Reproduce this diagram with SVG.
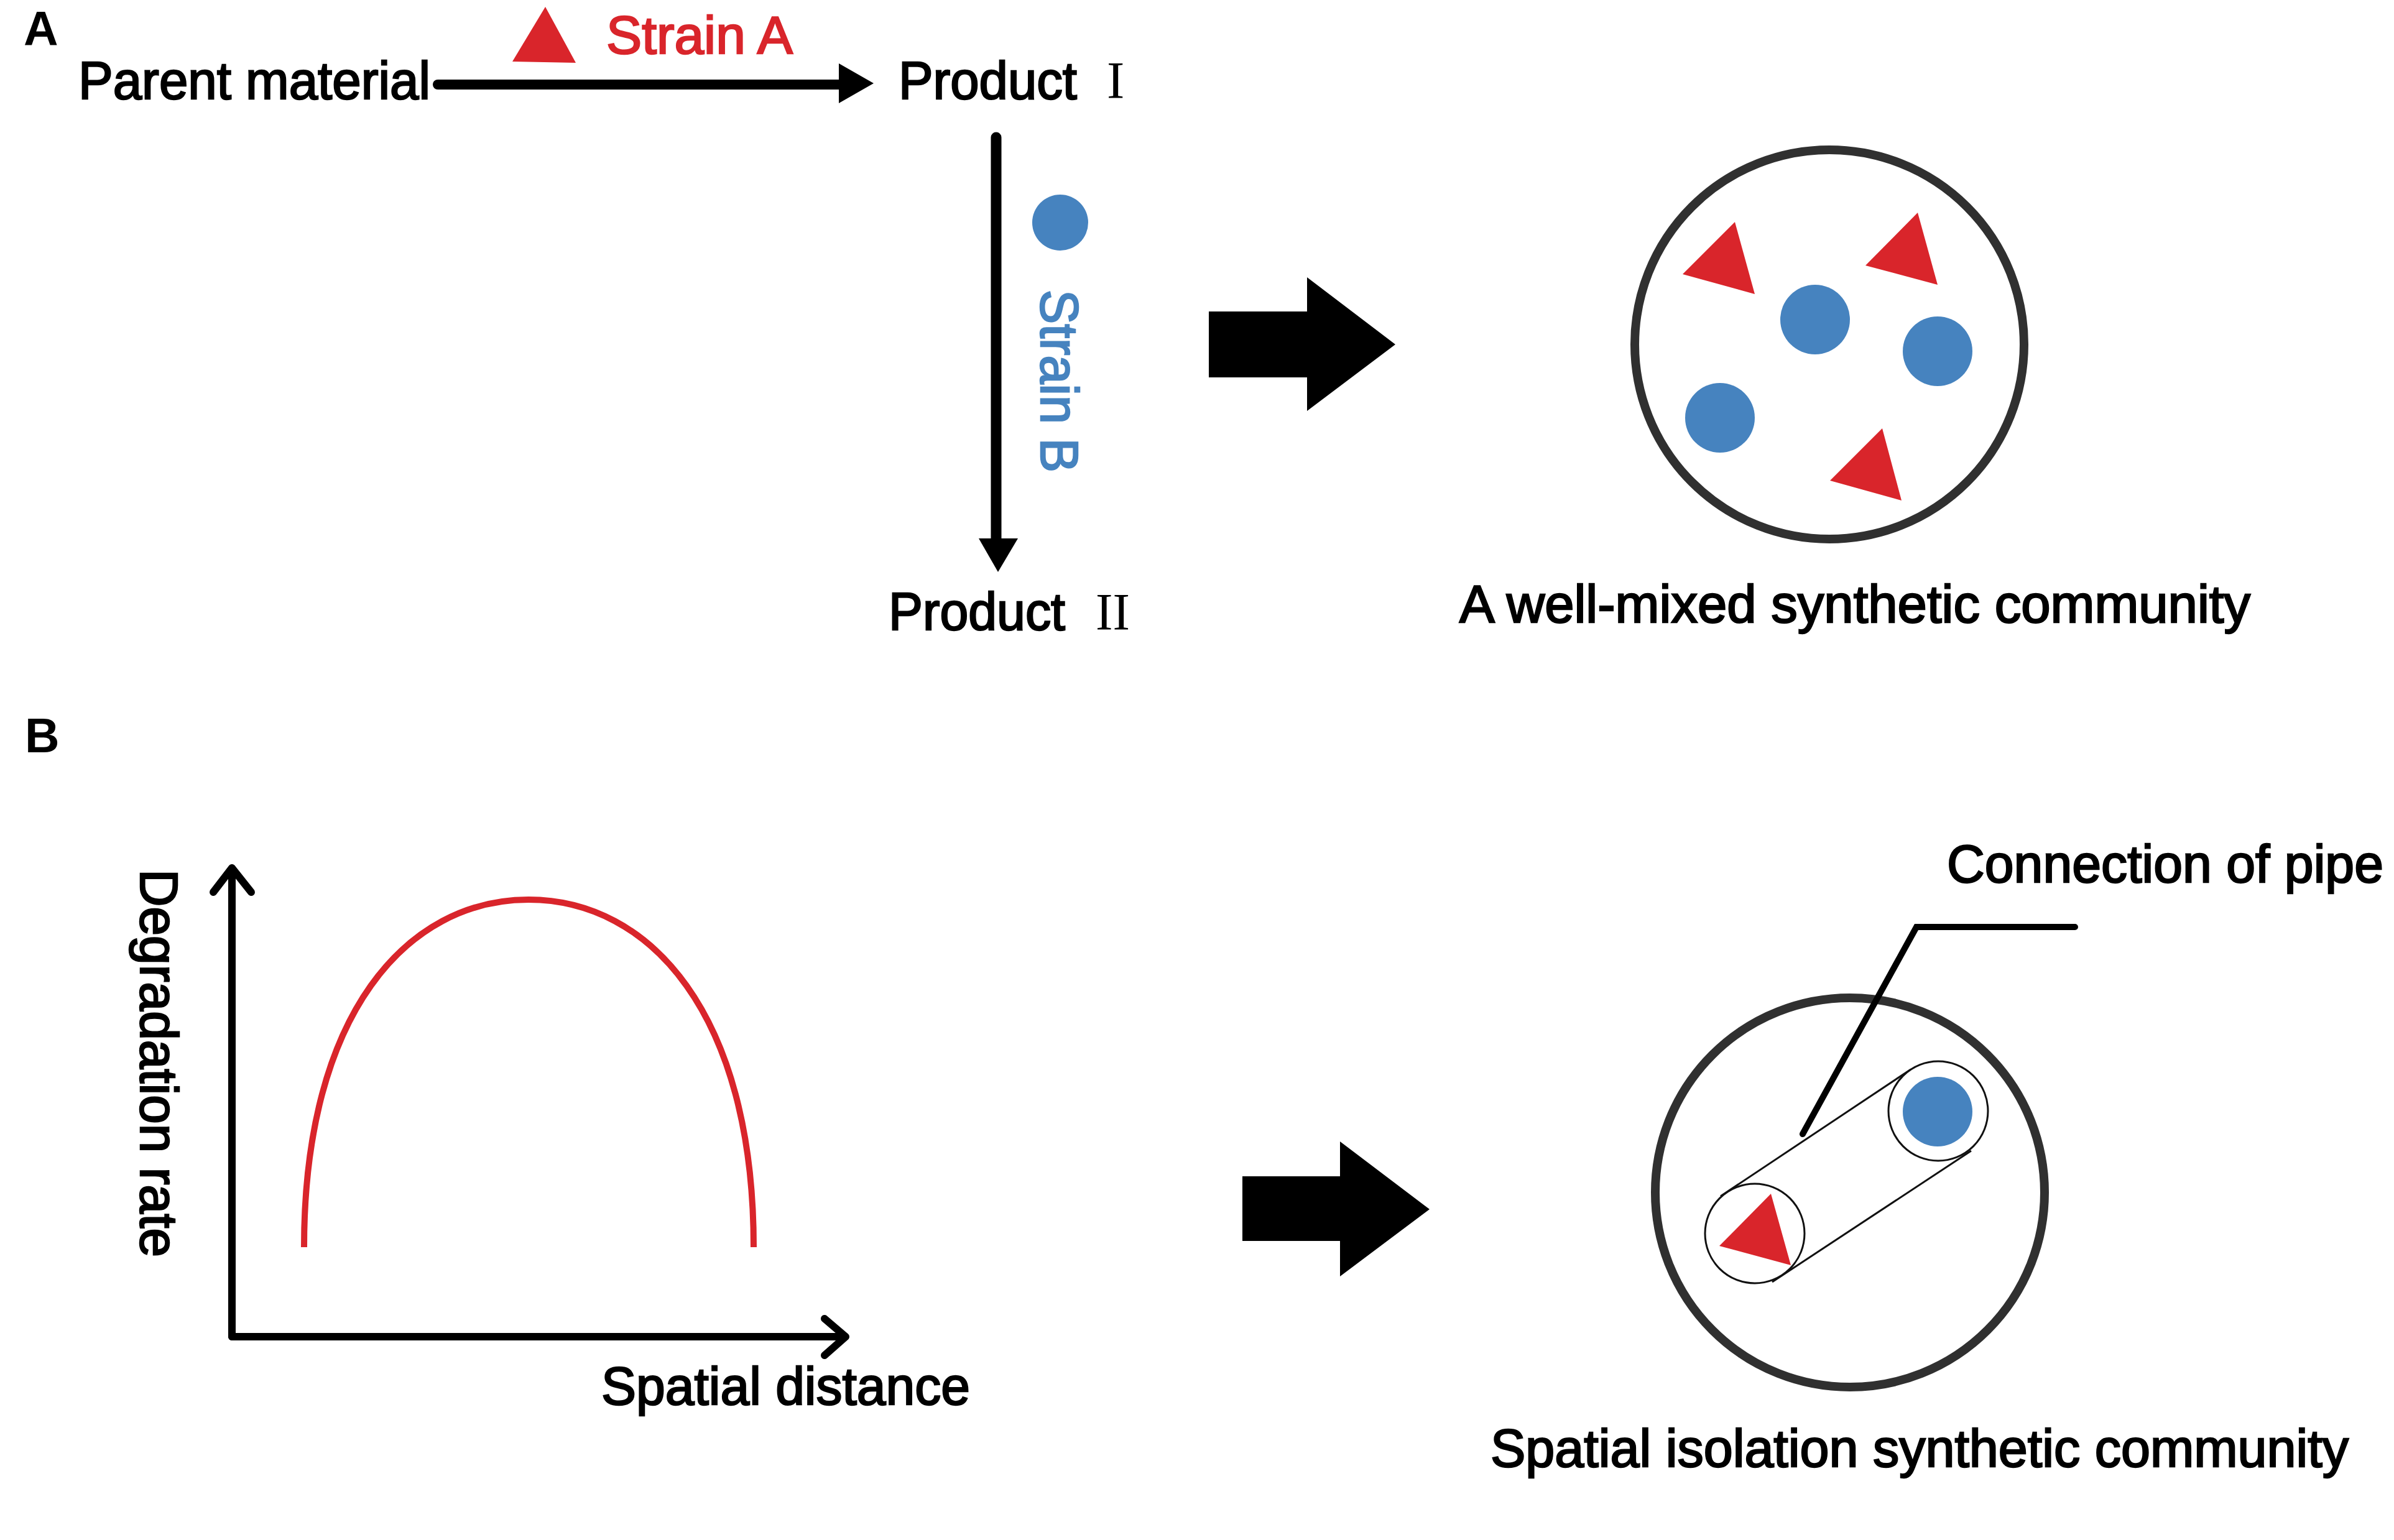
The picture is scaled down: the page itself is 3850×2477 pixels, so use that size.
<svg xmlns="http://www.w3.org/2000/svg" width="3850" height="2477" viewBox="0 0 3850 2477">
<defs>
<style>
.t{font-family:"Liberation Sans",Arial,sans-serif;font-size:86px;fill:#000;stroke:#000;stroke-width:2.5}
.tr{fill:#d9252b;stroke:#d9252b}
.tb{fill:#4683bf;stroke:#4683bf}
.lbl{font-family:"Liberation Sans",Arial,sans-serif;font-weight:bold;font-size:77px;fill:#000}
.rn{font-family:"Liberation Serif","Times New Roman",serif;font-size:85px;fill:#000}
.red{fill:#d9252b}
.blue{fill:#4683bf}
.ring{fill:none;stroke:#303030;stroke-width:14}
.conn{fill:none;stroke:#000;stroke-linecap:round}
.pipe{fill:#fff;stroke:#111;stroke-width:3}
</style>
</defs>
<rect width="3850" height="2477" fill="#fff"/>

<g id="panel-labels">
<text class="lbl" x="38" y="73">A</text>
<text class="lbl" x="40" y="1210">B</text>
</g>

<g id="parent-material">
<text class="t" x="126" y="159" textLength="566" lengthAdjust="spacingAndGlyphs">Parent material</text>
</g>

<g id="strain-a">
<polygon class="red" points="877,11 824,99 926,101"/>
<text class="t tr" x="975" y="86" textLength="300" lengthAdjust="spacingAndGlyphs">Strain A</text>
</g>

<g id="product-1">
<text class="t" x="1445" y="159" textLength="287" lengthAdjust="spacingAndGlyphs">Product</text>
<text class="rn" x="1780" y="158">I</text>
</g>

<g id="strain-b">
<circle class="blue" cx="1705" cy="358" r="45"/>
<text class="t tb" transform="translate(1674,466) rotate(90)" textLength="294" lengthAdjust="spacingAndGlyphs">Strain B</text>
</g>

<g id="product-2">
<text class="t" x="1429" y="1013" textLength="284" lengthAdjust="spacingAndGlyphs">Product</text>
<text class="rn" x="1762" y="1013" textLength="55" lengthAdjust="spacingAndGlyphs">II</text>
</g>

<g id="connectors">
<line class="conn" x1="704" y1="136" x2="1355" y2="136" stroke-width="16"/>
<polygon points="1349,102 1405,134 1349,166" fill="#000"/>
<line class="conn" x1="1602" y1="221" x2="1602" y2="872" stroke-width="17"/>
<polygon points="1574,866 1605,920 1637,866" fill="#000"/>
<polygon id="big-arrow-a" points="1944,501 2102,501 2102,446 2244,554 2102,661 2102,607 1944,607" fill="#000"/>
<polygon id="big-arrow-b" points="1998,1892 2155,1892 2155,1836 2299,1945 2155,2053 2155,1996 1998,1996" fill="#000"/>
</g>

<g id="well-mixed-community">
<circle class="ring" cx="2942" cy="554" r="313"/>
<polygon class="red" points="2790,357 2706,441 2822,473"/>
<polygon class="red" points="3084,342 3000,427 3116,458"/>
<polygon class="red" points="3027,689 2943,773 3058,805"/>
<circle class="blue" cx="2919" cy="514" r="56"/>
<circle class="blue" cx="3116" cy="565" r="56"/>
<circle class="blue" cx="2766" cy="672" r="56"/>
<text class="t" x="2347" y="1001" textLength="1272" lengthAdjust="spacingAndGlyphs">A well-mixed synthetic community</text>
</g>

<g id="degradation-chart">
<line class="conn" x1="373" y1="1397" x2="373" y2="2150" stroke-width="12"/>
<line class="conn" x1="373" y1="2150" x2="1358" y2="2150" stroke-width="12"/>
<polyline class="conn" points="343,1435 373,1396 404,1435" stroke-width="12" stroke-linejoin="round"/>
<polyline class="conn" points="1326,2121 1360,2150 1326,2180" stroke-width="12" stroke-linejoin="round"/>
<path d="M489,2006 C489,1630 655,1447 850,1447 C1045,1447 1212,1630 1212,2006" fill="none" stroke="#d9252b" stroke-width="10"/>
<text class="t" transform="translate(226,1398) rotate(90)" textLength="624" lengthAdjust="spacingAndGlyphs">Degradation rate</text>
<text class="t" x="967" y="2259" textLength="593" lengthAdjust="spacingAndGlyphs">Spatial distance</text>
</g>

<g id="spatial-isolation-community">
<circle class="ring" cx="2975" cy="1918" r="313"/>
<line x1="2767" y1="1924" x2="3073" y2="1720" stroke="#111" stroke-width="3"/>
<line x1="2850" y1="2062" x2="3170" y2="1851" stroke="#111" stroke-width="3"/>
<circle class="pipe" cx="2822" cy="1984" r="80"/>
<circle class="pipe" cx="3117" cy="1787" r="80"/>
<polygon class="red" points="2848,1920 2765,2004 2880,2035"/>
<circle class="blue" cx="3116" cy="1788" r="56"/>
<text class="t" x="2397" y="2359" textLength="1380" lengthAdjust="spacingAndGlyphs">Spatial isolation synthetic community</text>
</g>

<g id="connection-of-pipe">
<polyline class="conn" points="2899,1824 3082,1491 3337,1491" stroke-width="10" stroke-linejoin="miter"/>
<text class="t" x="3131" y="1419" textLength="702" lengthAdjust="spacingAndGlyphs">Connection of pipe</text>
</g>
</svg>
